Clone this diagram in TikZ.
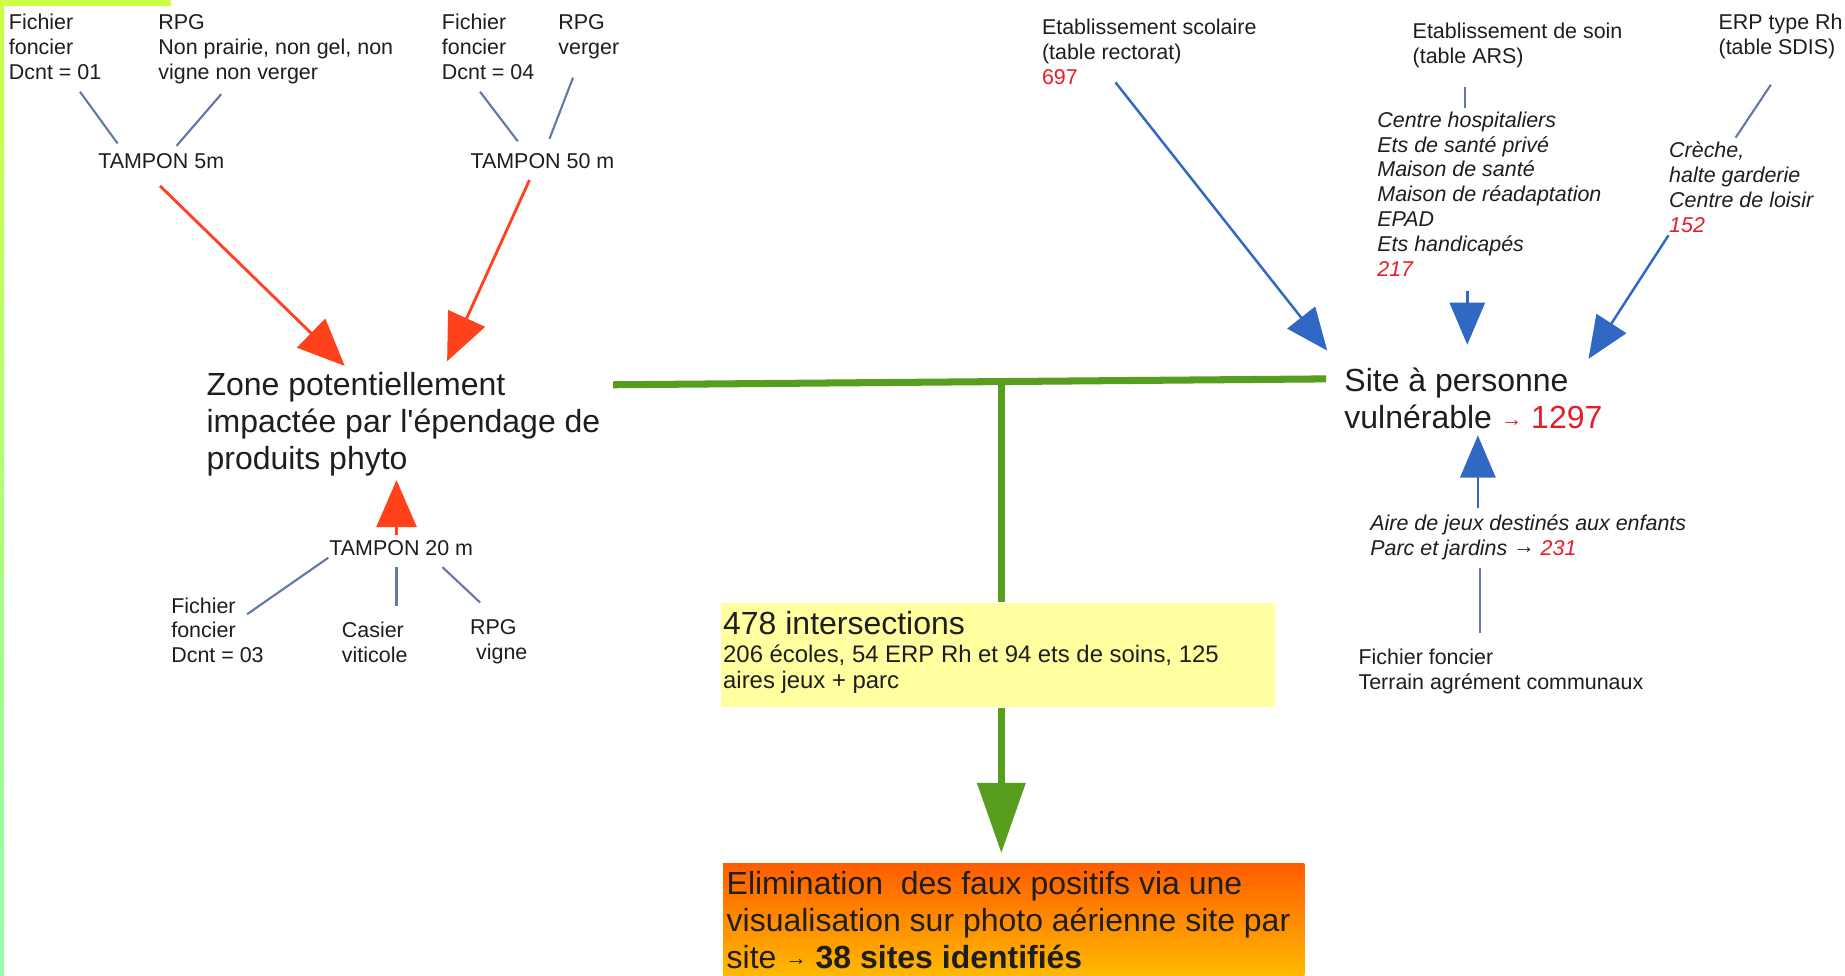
\documentclass[tikz,border=0pt]{standalone}
\usepackage{fontspec}
\setmainfont{Liberation Sans}
\usetikzlibrary{arrows.meta}
\usetikzlibrary{calc}

\definecolor{arrowred}{RGB}{255,66,28}
\definecolor{arrowblue}{RGB}{48,104,196}
\definecolor{linkgray}{RGB}{100,118,172}
\definecolor{pathgreen}{RGB}{88,158,30}
\definecolor{boxyellow}{RGB}{255,255,160}
\definecolor{numred}{RGB}{232,28,40}
\definecolor{txt}{RGB}{30,30,30}
\definecolor{stripA}{RGB}{204,255,68}
\definecolor{stripB}{RGB}{150,255,176}
\definecolor{elimtop}{RGB}{255,92,0}
\definecolor{elimbot}{RGB}{255,186,0}

\newcommand{\fsSmall}{\fontsize{6.1}{7.1}\selectfont}
\newcommand{\fsMid}{\fontsize{6.8}{7.4}\selectfont}
\newcommand{\fsBig}{\fontsize{9.1}{10.5}\selectfont}
% first line sits on the node's base
\newcommand{\lines}[1]{\begin{tabular}[t]{@{}l@{}}#1\end{tabular}}
\newcommand{\smallarrow}{\raisebox{0.6pt}{\fsSmall →}}
\newcommand{\straightquote}{\XeTeXglyph\the\XeTeXcharglyph"0027\relax}

\tikzset{
  lbl/.style={font=\fsSmall, text=txt, inner sep=0pt, anchor=base west},
  ilbl/.style={lbl, font=\fsSmall\itshape},
  biglbl/.style={lbl, font=\fsBig},
  link/.style={draw=linkgray, line width=0.6pt},
  redarrow/.style={draw=arrowred, line width=0.8pt, -{Triangle[length=13.4pt,width=11.4pt]}},
  bluearrow/.style={draw=arrowblue, line width=0.7pt, -{Triangle[length=12pt,width=10pt]}},
  greenline/.style={draw=pathgreen, line width=2pt}
}

\begin{document}
\begin{tikzpicture}[x=0.11767mm,y=-0.11767mm]
\useasboundingbox (0,0) rectangle (1568,829);
\fill[white] (0,0) rectangle (1568,829);
\shade[top color=stripA, bottom color=stripB] (0,0) rectangle (3.5,829);
\fill[stripA] (0,0) rectangle (145,5);

% phyto side
\node[lbl] (ff01) at (7,25) {\lines{Fichier\\foncier\\Dcnt = 01}};
\node[lbl] (rpgA) at (134,25) {\lines{RPG\\Non prairie, non gel, non\\vigne non verger}};
\node[lbl, anchor=base] (t5) at (137,143) {TAMPON 5m};
\node[lbl] (ff04) at (375,25) {\lines{Fichier\\foncier\\Dcnt = 04}};
\node[lbl] (rpgB) at (474,25) {\lines{RPG\\verger}};
\node[lbl, anchor=base] (t50) at (461,143) {TAMPON 50 m};
\node[biglbl] (zone) at (175,336) {\lines{Zone potentiellement\\impactée par l\straightquote épendage de\\produits phyto}};
\node[lbl, anchor=base] (t20) at (341,472) {TAMPON 20 m};
\node[lbl] (ff03) at (145,521) {\lines{Fichier\\foncier\\Dcnt = 03}};
\node[lbl] (casier) at (290,542) {\lines{Casier\\viticole}};
\node[lbl] (rpgC) at (399,539) {\lines{RPG\\\ vigne}};

\draw[link] ($(ff01.base west)+(61,53)$) -- ($(t5.base)+(-37,-21)$);
\draw[link] ($(rpgA.base west)+(54,55)$) -- ($(t5.base)+(13,-19)$);
\draw[link] ($(ff04.base west)+(33,53)$) -- ($(t50.base)+(-21,-23)$);
\draw[link] ($(rpgB.base west)+(13,41)$) -- ($(t50.base)+(6,-25)$);
\draw[redarrow] ($(t5.base)+(-1,15)$) -- ($(zone.base west)+(118,-25)$);
\draw[redarrow] ($(t50.base)+(-11,10)$) -- ($(zone.base west)+(205,-29)$);
\draw[redarrow] ($(t20.base)+(-4,-17)$) -- ($(zone.base west)+(162,72)$);
\draw[link] ($(ff03.base west)+(65,1)$) -- ($(t20.base)+(-62,2)$);
\draw[link] ($(casier.base west)+(47,-27)$) -- ($(t20.base)+(-4,10)$);
\draw[link] ($(rpgC.base west)+(9,-27)$) -- ($(t20.base)+(35,10)$);

% sensitive sites side
\node[lbl] (scol) at (885,29) {\lines{Etablissement scolaire\\(table rectorat)\\{\color{numred}697}}};
\node[lbl] (soin) at (1200,33) {\lines{Etablissement de soin\\(table ARS)}};
\node[ilbl] (ars) at (1170,108) {\lines{Centre hospitaliers\\Ets de santé privé\\Maison de santé\\Maison de réadaptation\\EPAD\\Ets handicapés\\{\color{numred}217}}};
\node[lbl] (sdis) at (1460,25) {\lines{ERP type Rh\\(table SDIS)}};
\node[ilbl] (creche) at (1418,134) {\lines{Crèche,\\halte garderie\\Centre de loisir\\{\color{numred}152}}};
\node[biglbl] (site) at (1142,333) {\lines{Site à personne\\vulnérable {\color{numred}\smallarrow} {\color{numred}1297}}};
\node[ilbl] (aire) at (1164,451) {\lines{Aire de jeux destinés aux enfants\\Parc et jardins {\upshape\smallarrow} {\color{numred}231}}};
\node[lbl] (ffT) at (1154,565) {\lines{Fichier foncier\\Terrain agrément communaux}};

\draw[bluearrow] ($(scol.base west)+(63,41)$) -- ($(site.base west)+(-14,-35)$);
\draw[link] ($(soin.base west)+(45,41)$) -- ($(ars.base west)+(75,-16)$);
\draw[bluearrow] ($(ars.base west)+(77,139)$) -- ($(site.base west)+(105,-40)$);
\draw[link] ($(sdis.base west)+(45,47)$) -- ($(creche.base west)+(57,-17)$);
\draw[bluearrow] ($(creche.base west)+(0,66)$) -- ($(site.base west)+(208,-28)$);
\draw[bluearrow] ($(aire.base west)+(92,-19)$) -- ($(site.base west)+(114,37)$);
\draw[link] ($(ffT.base west)+(104,-27)$) -- ($(aire.base west)+(94,32)$);

% result
\node[fill=boxyellow, inner sep=0pt, minimum width=157.7pt, minimum height=29.5pt, anchor=north west] (inter) at (612,512) {};
\node[biglbl] (intertitle) at (614,539) {478 intersections};
\node[lbl, font=\fsMid] (interbody) at (614,563) {\lines{206 écoles, 54 ERP Rh et 94 ets de soins, 125\\aires jeux + parc}};
\node[top color=elimtop, bottom color=elimbot, inner sep=0pt, minimum width=165.4pt, minimum height=32.1pt, anchor=north west] (elim) at (614,733) {};
\node[biglbl] (elimtxt) at (617,760) {\lines{Elimination\ \ des faux positifs via une\\visualisation sur photo aérienne site par\\site \smallarrow{} \textbf{38 sites identifiés}}};

\coordinate (junc) at (851,324.3);
\draw[greenline] ($(zone.base west)+(346,-9)$) -- ($(site.base west)+(-15,-11)$);
\draw[greenline] (junc) -- (junc |- inter.north);
\draw[greenline, -{Triangle[length=20pt,width=13.4pt]}] (junc |- inter.south) -- ($(junc |- elim.north)+(0,-8)$);

\end{tikzpicture}
\end{document}
